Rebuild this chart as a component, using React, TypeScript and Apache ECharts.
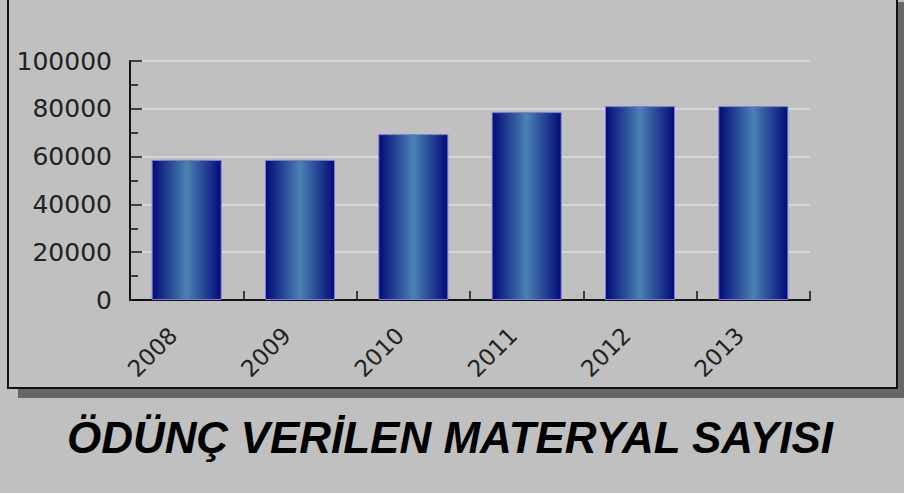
import React, { useEffect, useRef } from "react";
import * as echarts from "echarts";

const categories = ["2008", "2009", "2010", "2011", "2012", "2013"];
const values = [58600, 58600, 69400, 78600, 81100, 81100];
const titleText = "ÖDÜNÇ VERİLEN MATERYAL SAYISI";

export default function App() {
  const ref = useRef<HTMLDivElement>(null);
  useEffect(() => {
    if (!ref.current) return;
    const chart = echarts.init(ref.current, undefined, { renderer: "svg" });
    const barGrad = new echarts.graphic.LinearGradient(0, 0, 1, 0, [
      { offset: 0, color: "#020a78" },
      { offset: 0.5, color: "#4a82b2" },
      { offset: 1, color: "#020a78" },
    ]);
    chart.setOption({
      animation: false,
      backgroundColor: "#c0c0c0",
      graphic: [
        {
          type: "rect",
          z: 0,
          shape: { x: 18, y: 2, width: 889, height: 396 },
          style: { fill: "#666666" },
        },
        {
          type: "rect",
          z: 0,
          shape: { x: 8, y: -8, width: 889, height: 396 },
          style: { fill: "#c0c0c0", stroke: "#111", lineWidth: 2 },
        },
      ],
      title: {
        text: titleText,
        left: 62,
        top: 410,
        textStyle: {
          fontFamily: "Liberation Sans",
          fontWeight: "bold",
          fontStyle: "italic",
          fontSize: 44,
          color: "#000",
        },
      },
      grid: {
        left: 130,
        right: 94,
        top: 61,
        bottom: 193,
        show: true,
        backgroundColor: "#ffffff",
        borderWidth: 0,
      },
      xAxis: {
        type: "category",
        data: categories,
        boundaryGap: true,
        axisLine: { show: true, lineStyle: { color: "#111", width: 2 } },
        axisTick: { show: true, inside: true, length: 9, lineStyle: { color: "#111", width: 1.5 } },
        axisLabel: {
          rotate: 45,
          margin: 18,
          padding: [0, 19, 0, 0],
          fontFamily: "DejaVu Sans",
          fontSize: 23,
          color: "#222",
        },
        splitLine: { show: false },
      },
      yAxis: {
        type: "value",
        min: 0,
        max: 100000,
        interval: 20000,
        axisLine: { show: true, lineStyle: { color: "#111", width: 2 } },
        axisTick: { show: true, inside: true, length: 12, lineStyle: { color: "#111", width: 1.5 } },
        minorTick: { show: true, splitNumber: 2, length: 8, lineStyle: { color: "#111", width: 1.5 } },
        axisLabel: {
          margin: 18,
          fontFamily: "DejaVu Sans",
          fontSize: 25,
          color: "#222",
          formatter: (v: number) => String(v),
        },
        splitLine: { show: true, lineStyle: { color: "#dedede", width: 1.5 } },
      },
      series: [
        {
          type: "bar",
          data: values,
          barWidth: 70,
          itemStyle: { color: barGrad, borderColor: "#7a7ad8", borderWidth: 1 },
        },
      ],
    });
    return () => chart.dispose();
  }, []);
  return (
    <div
      ref={ref}
      style={{ position: "fixed", left: 0, top: 0, width: 904, height: 493 }}
    />
  );
}
